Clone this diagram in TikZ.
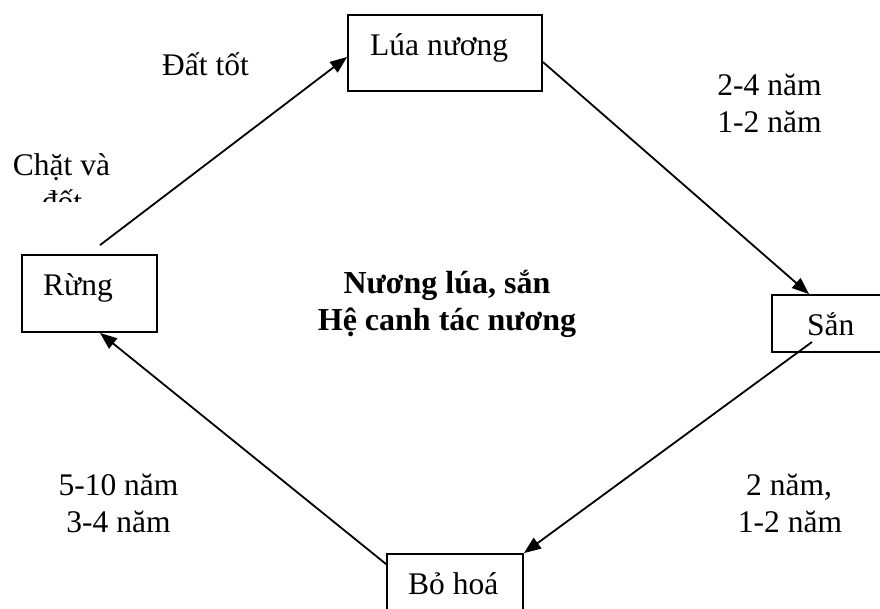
\documentclass[tikz,border=0pt]{standalone}
\usepackage{fontspec}
\setmainfont{Liberation Serif}
\usetikzlibrary{arrows.meta}
\begin{document}
\begin{tikzpicture}[x=1pt,y=-1pt,
  box/.style={draw, line width=1.8pt, inner sep=0pt, rectangle},
  txt/.style={inner sep=0pt, anchor=base, font=\fontsize{31.5}{37}\selectfont},
  bold/.style={txt, font=\fontsize{32}{37}\selectfont\bfseries},
  flow/.style={line width=1.8pt, -{Triangle[length=17pt,width=13pt]}},
]
\useasboundingbox (0,0) rectangle (880,608);
\clip (0,0) rectangle (880,608);

% stages of the cycle
\node[box, minimum width=135pt, minimum height=77pt] (rung) at (89.5,293.5) {};
\node[box, minimum width=194pt, minimum height=76pt] (lua) at (445,53) {};
\node[box, minimum width=130pt, minimum height=57pt] (san) at (837,323.5) {};
\node[box, minimum width=136pt, minimum height=90pt] (bohoa) at (455,599) {};

\node[txt, anchor=base west] (rungtxt) at (43,295) {Rừng};
\node[txt, anchor=base west] (luatxt) at (370,55) {Lúa nương};
\node[txt, anchor=base west] (santxt) at (807,335) {Sắn};
\node[txt, anchor=base west] (bohoatxt) at (408,594) {Bỏ hoá};

% centre title
\node[bold] (title1) at (447,293) {Nương lúa, sắn};
\node[bold] (title2) at (447,330) {Hệ canh tác nương};

% edge labels
\node[txt, anchor=base west] (dattot) at (162,75) {Đất tốt};
\node[txt] (chat1) at (61.5,175) {Chặt và};
\begin{scope}
  \clip (0,180) rectangle (200,201);
  \node[txt] (chat2) at (62,212) {đốt};
\end{scope}
\node[txt] (ls1) at (769.5,95) {2-4 năm};
\node[txt] (ls2) at (769.5,132) {1-2 năm};
\node[txt] (sb1) at (789,495) {2 năm,};
\node[txt] (sb2) at (790,532) {1-2 năm};
\node[txt] (br1) at (118.5,495) {5-10 năm};
\node[txt] (br2) at (118.5,532) {3-4 năm};

% cycle arrows
\draw[flow] ([xshift=10.5pt,yshift=9pt]rung.north) -- ([yshift=-4pt]lua.west);
\draw[flow] ([yshift=-9pt]lua.east) -- ([xshift=-28pt]san.north);
\draw[flow] ([xshift=-25pt,yshift=-18.5pt]san.center) -- (bohoa.north east);
\draw[flow] ([yshift=-11pt]bohoa.north west) -- ([xshift=10.5pt]rung.south);
\end{tikzpicture}
\end{document}
